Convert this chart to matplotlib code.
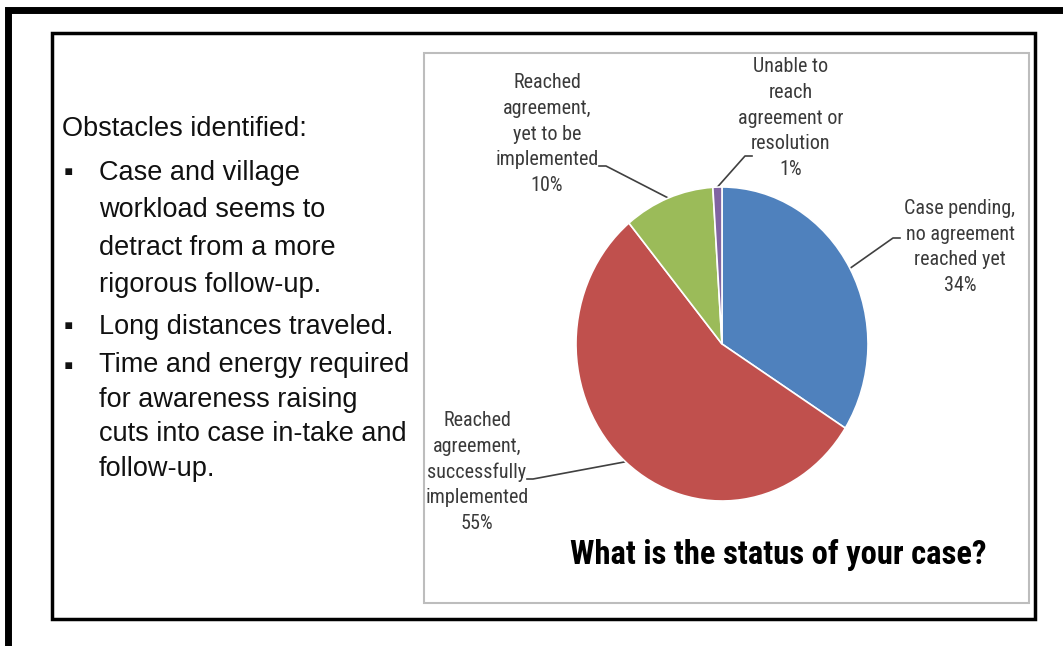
import numpy as np
import matplotlib.pyplot as plt
from matplotlib.patches import Rectangle

# Survey answers: "What is the status of your case?"
categories = ["Case pending,\nno agreement\nreached yet",
              "Reached\nagreement,\nsuccessfully\nimplemented",
              "Reached\nagreement,\nyet to be\nimplemented",
              "Unable to\nreach\nagreement or\nresolution"]
shares = [34, 55, 10, 1]
colors = ["#4F81BD", "#C0504D", "#9BBB59", "#8064A2"]

heading = "Obstacles identified:"
bullets = ["Case and village\nworkload seems to\ndetract from a more\nrigorous follow-up.",
           "Long distances traveled.",
           "Time and energy required\nfor awareness raising\ncuts into case in-take and\nfollow-up."]
title = "What is the status of your case?"

W, H = 1063, 646
fig = plt.figure(figsize=(W / 100, H / 100), dpi=100)

# full-size canvas in pixel units for frames and the text column
bg = fig.add_axes([0, 0, 1, 1])
bg.set_xlim(0, W)
bg.set_ylim(H, 0)
bg.axis("off")

# outer thick frame (left and top edges only visible)
bg.plot([7.5, 7.5, W + 5], [H + 5, 10, 10], color="black", lw=5, solid_joinstyle="miter")
# inner black box
bg.add_patch(Rectangle((52, 33), 983, 586, fill=False, ec="black", lw=2.5))
# chart panel
bg.add_patch(Rectangle((424, 53), 605, 550, fill=False, ec="#BDBDBD", lw=1.5))

# left column text
body = dict(family=["Liberation Sans", "DejaVu Sans"], fontsize=19.5, color="#111111")
bg.text(62, 129, heading, va="center", ha="left", **body)
para_y = [229, 327, 417]
first_y = [173, 327, 367]
spacing = [1.58, 1.0, 1.42]
for txt, yc, y0, ls in zip(bullets, para_y, first_y, spacing):
    bg.text(99, yc, txt, va="center", ha="left", linespacing=ls, **body)
    bg.text(68, y0, "\u25aa", va="center", ha="center", **body)

# pie (slightly taller than wide)
cx, cy, rx, ry = 722, 344, 146, 157
ax = fig.add_axes([(cx - rx) / W, (H - cy - ry) / H, 2 * rx / W, 2 * ry / H])
wedges, _ = ax.pie(shares, colors=colors, startangle=90, counterclock=False,
                   radius=1, wedgeprops=dict(edgecolor="white", linewidth=1.2))
ax.set_aspect("auto")
ax.set_xlim(-1, 1)
ax.set_ylim(-1, 1)
ax.axis("off")

# label centres and leader start points (pixels)
label_pos = [(960, 247), (477, 472), (547, 134), (791, 118)]
leader_from = [[(900, 238), (893, 238)],
               [(527, 479), (533, 479)],
               [(599, 166), (606, 166)],
               [(752, 156), (745, 156)]]

to_bg = ax.transData + bg.transData.inverted()
label_font = dict(family=["Roboto Condensed", "DejaVu Sans"], fontstretch="condensed",
                  fontsize=14.5, color="#3A3A3A")
start = 90.0
for name, v, (lx, ly), pts in zip(categories, shares, label_pos, leader_from):
    mid = np.deg2rad(start - v / 2 * 3.6)
    start -= v * 3.6
    ex, ey = to_bg.transform((np.cos(mid), np.sin(mid)))
    xs = [p[0] for p in pts] + [ex]
    ys = [p[1] for p in pts] + [ey]
    bg.plot(xs, ys, color="#404040", lw=1.2, zorder=5)
    bg.text(lx, ly, f"{name}\n{v}%", ha="center", va="center",
            linespacing=1.44, **label_font)

bg.text(778, 555, title, ha="center", va="center", fontsize=23.5, fontweight="bold",
        family=["Roboto Condensed", "DejaVu Sans"], fontstretch="condensed", color="black")

fig.savefig("out.png", dpi=100)
